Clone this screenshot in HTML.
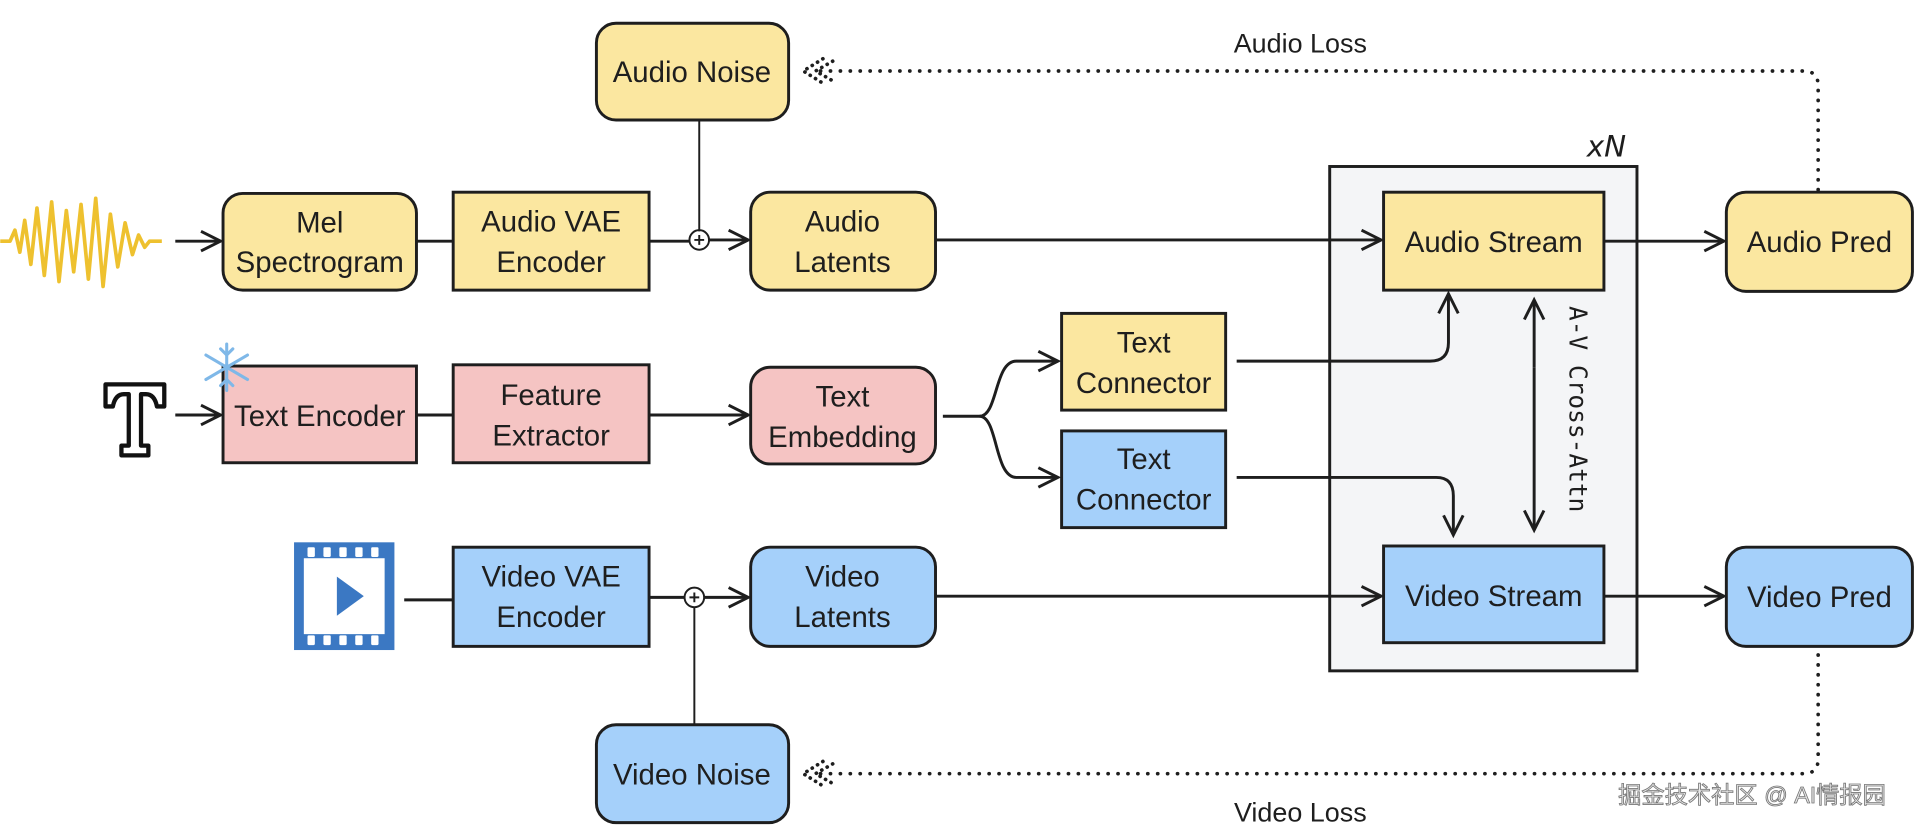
<!DOCTYPE html>
<html><head><meta charset="utf-8"><style>
html,body{margin:0;padding:0;background:#fff;}
svg{display:block;}
text{font-family:"Liberation Sans",sans-serif;fill:#1e1e1e;}
</style></head><body>
<svg width="1920" height="830" viewBox="0 0 1568 678" xmlns="http://www.w3.org/2000/svg">
<defs>
<marker id="a" markerWidth="20" markerHeight="20" refX="17" refY="10" orient="auto" markerUnits="userSpaceOnUse">
<path d="M1,2 L17,10 L1,18" fill="none" stroke="#1e1e1e" stroke-width="2.4"/></marker>
</defs>
<g stroke="#1e1e1e" stroke-width="2.4" fill="none">
<rect x="1086" y="136" width="251" height="412" fill="#f4f5f7"/>
<rect x="487" y="19" width="157" height="79" rx="16" fill="#fbe7a0"/>
<rect x="182" y="158" width="158" height="79" rx="16" fill="#fbe7a0"/>
<rect x="370" y="157" width="160" height="80" fill="#fbe7a0"/>
<rect x="613" y="157" width="151" height="80" rx="16" fill="#fbe7a0"/>
<rect x="1130" y="157" width="180" height="80" fill="#fbe7a0"/>
<rect x="1410" y="157" width="152" height="81" rx="16" fill="#fbe7a0"/>
<rect x="182" y="299" width="158" height="79" fill="#f5c4c3"/>
<rect x="370" y="298" width="160" height="80" fill="#f5c4c3"/>
<rect x="613" y="300" width="151" height="79" rx="16" fill="#f5c4c3"/>
<rect x="867" y="256" width="134" height="79" fill="#fbe7a0"/>
<rect x="867" y="352" width="134" height="79" fill="#a5d0fa"/>
<rect x="370" y="447" width="160" height="81" fill="#a5d0fa"/>
<rect x="613" y="447" width="151" height="81" rx="16" fill="#a5d0fa"/>
<rect x="1130" y="446" width="180" height="79" fill="#a5d0fa"/>
<rect x="1410" y="447" width="152" height="81" rx="16" fill="#a5d0fa"/>
<rect x="487" y="592" width="157" height="80" rx="16" fill="#a5d0fa"/>

<line x1="143" y1="197" x2="180" y2="197" marker-end="url(#a)"/>
<line x1="340" y1="197" x2="370" y2="197"/>
<line x1="530" y1="197" x2="563" y2="197"/>
<circle cx="571" cy="196" r="8" fill="#fff" stroke-width="1.6"/>
<path d="M571,189 V98 M567,196 H575 M571,192 V200" stroke-width="1.6"/>
<line x1="579" y1="196" x2="611" y2="196" marker-end="url(#a)"/>
<line x1="764" y1="196" x2="1128" y2="196" marker-end="url(#a)"/>
<line x1="1310" y1="197" x2="1408" y2="197" marker-end="url(#a)"/>
<line x1="143" y1="339" x2="180" y2="339" marker-end="url(#a)"/>
<line x1="340" y1="339" x2="370" y2="339"/>
<line x1="530" y1="339" x2="611" y2="339" marker-end="url(#a)"/>
<path d="M770,340 H800 C815,340 812,295 830,295 H864" marker-end="url(#a)"/>
<path d="M800,340 C815,340 812,390 830,390 H864" marker-end="url(#a)"/>
<path d="M1010,295 H1168 Q1183,295 1183,280 V240" marker-end="url(#a)"/>
<path d="M1010,390 H1173 Q1187,390 1187,405 V437" marker-end="url(#a)"/>
<line x1="1253" y1="300" x2="1253" y2="245" marker-end="url(#a)"/>
<line x1="1253" y1="300" x2="1253" y2="433" marker-end="url(#a)"/>
<line x1="330" y1="490" x2="370" y2="490"/>
<line x1="530" y1="488" x2="560" y2="488"/>
<circle cx="567" cy="488" r="8" fill="#fff" stroke-width="1.6"/>
<path d="M567,496 V592 M563,488 H571 M567,484 V492" stroke-width="1.6"/>
<line x1="575" y1="488" x2="611" y2="488" marker-end="url(#a)"/>
<line x1="764" y1="487" x2="1128" y2="487" marker-end="url(#a)"/>
<line x1="1310" y1="487" x2="1408" y2="487" marker-end="url(#a)"/>
<path d="M1485,155 V70 Q1485,58 1473,58 H670" stroke-dasharray="0.1 8" stroke-linecap="round" stroke-width="3"/>
<path d="M672,48 L656,58 L672,68 M680,50 L666,58 L680,66" stroke-dasharray="0.1 5" stroke-linecap="round" stroke-width="3"/>
<path d="M1485,535 V620 Q1485,632 1473,632 H670" stroke-dasharray="0.1 8" stroke-linecap="round" stroke-width="3"/>
<path d="M672,622 L656,632 L672,642 M680,624 L666,632 L680,640" stroke-dasharray="0.1 5" stroke-linecap="round" stroke-width="3"/>
</g>

<path d="M0,197 L8,197 L12,188 L16,206 L20,180 L25,216 L30,170 L36,225 L42,165 L48,230 L54,172 L60,222 L66,167 L72,228 L78,162 L84,234 L90,175 L96,218 L102,182 L108,208 L113,192 L118,202 L122,197 L132,197" fill="none" stroke="#eec12f" stroke-width="3" stroke-linejoin="round"/>
<path d="M86,314 H134 V332 H128 Q126,322 119,322 H115 V364 H121 V372 H99 V364 H105 V322 H101 Q94,322 92,332 H86 Z" fill="#fff" stroke="#111" stroke-width="3.5" stroke-linejoin="round"/>
<g stroke="#7fb8e8" stroke-width="2.5" stroke-linecap="round">
<line x1="185" y1="281" x2="185" y2="319"/><line x1="168" y1="290" x2="202" y2="310"/><line x1="168" y1="310" x2="202" y2="290"/>
<path d="M180,285 L185,290 L190,285 M180,315 L185,310 L190,315" fill="none"/>
</g>
<rect x="240" y="443" width="82" height="88" fill="#3b78c3"/>
<rect x="248" y="456" width="66" height="62" fill="#fff"/>
<g fill="#fff"><rect x="251" y="447" width="6" height="8" rx="1"/><rect x="264" y="447" width="6" height="8" rx="1"/><rect x="277" y="447" width="6" height="8" rx="1"/><rect x="290" y="447" width="6" height="8" rx="1"/><rect x="303" y="447" width="6" height="8" rx="1"/>
<rect x="251" y="519" width="6" height="8" rx="1"/><rect x="264" y="519" width="6" height="8" rx="1"/><rect x="277" y="519" width="6" height="8" rx="1"/><rect x="290" y="519" width="6" height="8" rx="1"/><rect x="303" y="519" width="6" height="8" rx="1"/></g>
<path d="M275,471 L297,487 L275,503 Z" fill="#3b78c3"/>

<g font-size="24" text-anchor="middle">
<text x="565" y="67">Audio Noise</text>
<text x="261" y="190">Mel</text><text x="261" y="222">Spectrogram</text>
<text x="450" y="189">Audio VAE</text><text x="450" y="222">Encoder</text>
<text x="688" y="189">Audio</text><text x="688" y="222">Latents</text>
<text x="1220" y="206">Audio Stream</text>
<text x="1486" y="206">Audio Pred</text>
<text x="261" y="348">Text Encoder</text>
<text x="450" y="331">Feature</text><text x="450" y="364">Extractor</text>
<text x="688" y="332">Text</text><text x="688" y="365">Embedding</text>
<text x="934" y="288">Text</text><text x="934" y="321">Connector</text>
<text x="934" y="383">Text</text><text x="934" y="416">Connector</text>
<text x="450" y="479">Video VAE</text><text x="450" y="512">Encoder</text>
<text x="688" y="479">Video</text><text x="688" y="512">Latents</text>
<text x="1220" y="495">Video Stream</text>
<text x="1486" y="496">Video Pred</text>
<text x="565" y="641">Video Noise</text>
<text x="1062" y="43" font-size="22">Audio Loss</text>
<text x="1062" y="671" font-size="22">Video Loss</text>
</g>
<text x="1312" y="128" font-size="24" font-style="italic" text-anchor="middle" style="font-family:'Comic Sans MS','DejaVu Sans',sans-serif">xN</text>
<text transform="translate(1282,250) rotate(90)" font-size="20" style="font-family:'DejaVu Sans Mono','Liberation Mono',monospace">A-V Cross-Attn</text>
<text x="1431" y="656" font-size="19" text-anchor="middle" stroke="#777" stroke-width="0.7" style="font-family:'Liberation Sans','Noto Sans CJK SC',sans-serif;fill:#eaeaea">掘金技术社区 @ AI情报园</text>
</svg>
</body></html>
